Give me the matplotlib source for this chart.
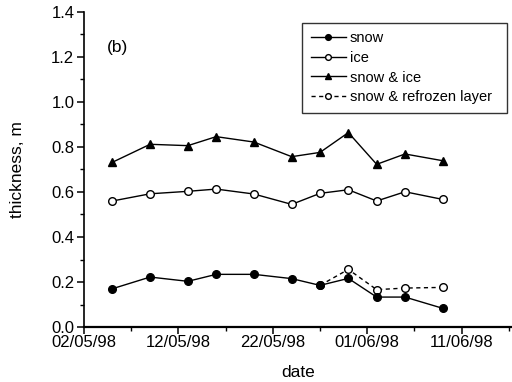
import matplotlib
matplotlib.use("Agg")
import matplotlib.pyplot as plt
import matplotlib.dates as mdates
from matplotlib.ticker import MultipleLocator
import datetime as dt

plt.rcParams['font.family'] = ['Liberation Sans', 'DejaVu Sans']

dates = ["1998-05-05", "1998-05-09", "1998-05-13", "1998-05-16", "1998-05-20",
         "1998-05-24", "1998-05-27", "1998-05-30", "1998-06-02", "1998-06-05", "1998-06-09"]
snow = [0.170, 0.222, 0.203, 0.234, 0.234, 0.215, 0.185, 0.216, 0.133, 0.133, 0.083]
ice = [0.560, 0.592, 0.603, 0.613, 0.591, 0.545, 0.594, 0.610, 0.560, 0.601, 0.567]
snow_ice = [0.732, 0.812, 0.806, 0.846, 0.822, 0.757, 0.776, 0.864, 0.723, 0.769, 0.739]
refrozen_dates = ["1998-05-27", "1998-05-30", "1998-06-02", "1998-06-05", "1998-06-09"]
refrozen = [0.185, 0.256, 0.166, 0.173, 0.176]

xticks = ["1998-05-02", "1998-05-12", "1998-05-22", "1998-06-01", "1998-06-11"]

def d(s):
    return dt.datetime.strptime(s, "%Y-%m-%d")

x = [d(s) for s in dates]
xr = [d(s) for s in refrozen_dates]

fig = plt.figure(figsize=(5.12, 3.82), dpi=100)
ax = fig.add_axes([84/512, 55/382, (512-84)/512, (327-12)/382])

ms = 5.5
ax.plot(xr, refrozen, color='black', lw=1.0, ls=(0, (3, 2.5)), marker='o', ms=ms,
        mfc='white', mec='black', mew=1.0, label='snow & refrozen layer', zorder=2)
ax.plot(x, snow, color='black', lw=1.0, marker='o', ms=ms, mfc='black', mec='black',
        label='snow', zorder=3)
ax.plot(x, ice, color='black', lw=1.0, marker='o', ms=ms, mfc='white', mec='black',
        mew=1.0, label='ice', zorder=3)
ax.plot(x, snow_ice, color='black', lw=1.0, marker='^', ms=ms+0.5, mfc='black', mec='black',
        label='snow & ice', zorder=3)

ax.set_xlim(d("1998-05-02"), d("1998-06-16") + dt.timedelta(hours=8))
ax.set_ylim(0, 1.4)
ax.set_xticks([d(s) for s in xticks])
ax.xaxis.set_major_formatter(mdates.DateFormatter("%d/%m/%y"))
ax.set_xticks([d("1998-05-07"), d("1998-05-17"), d("1998-05-27"), d("1998-06-06"), d("1998-06-16")], minor=True)
ax.yaxis.set_major_locator(MultipleLocator(0.2))
ax.yaxis.set_minor_locator(MultipleLocator(0.1))
ax.yaxis.set_major_formatter(matplotlib.ticker.FormatStrFormatter('%.1f'))

for sp in ['top', 'right']:
    ax.spines[sp].set_visible(False)
ax.spines['left'].set_linewidth(1.2)
ax.spines['bottom'].set_linewidth(1.6)
ax.tick_params(which='major', direction='out', length=5, width=1.1, labelsize=12, pad=2)
ax.tick_params(axis='x', which='major', pad=0.5)
ax.tick_params(which='minor', direction='out', length=3, width=1.0)

ax.set_xlabel("date", fontsize=12.5, labelpad=11)
ax.set_ylabel("thickness, m", fontsize=12.5, labelpad=19)

ax.text(0.054, 0.887, "(b)", transform=ax.transAxes, fontsize=12.5, va='center', ha='left')

h, l = ax.get_legend_handles_labels()
order = [1, 2, 3, 0]
leg = ax.legend([h[i] for i in order], [l[i] for i in order], loc='upper left',
                bbox_to_anchor=(0.509, 0.697, 0.479, 0.269), mode='expand',
                fontsize=10.5, frameon=True, fancybox=False,
                edgecolor='black', handlelength=2.4, handletextpad=0.3, labelspacing=0.38,
                borderpad=0.6, borderaxespad=0.0, markerscale=0.75)
leg.get_frame().set_linewidth(1.0)

fig.savefig("out.png", dpi=100)
